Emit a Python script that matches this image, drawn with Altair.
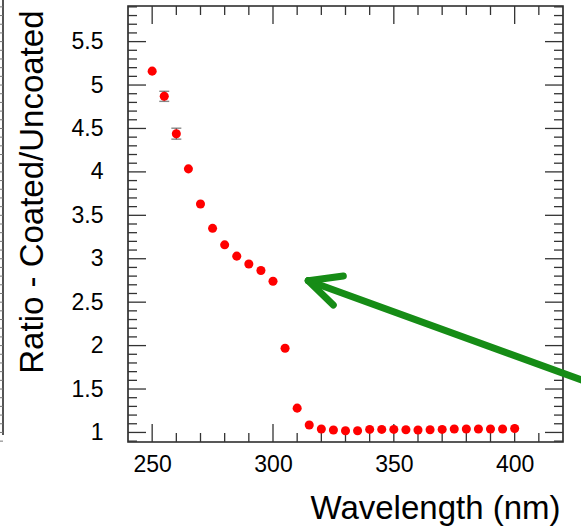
import altair as alt
import pandas as pd

# ---- data ----
wavelength = [250, 255, 260, 265, 270, 275, 280, 285, 290, 295, 300,
              305, 310, 315, 320, 325, 330, 335, 340, 345, 350,
              355, 360, 365, 370, 375, 380, 385, 390, 395, 400]
ratio = [5.16, 4.87, 4.44, 4.035, 3.63, 3.35, 3.16, 3.03, 2.94, 2.865, 2.74,
         1.97, 1.28, 1.085, 1.04, 1.028, 1.02, 1.02, 1.035, 1.035, 1.035,
         1.031, 1.028, 1.031, 1.035, 1.039, 1.039, 1.039, 1.039, 1.039, 1.046]
ratio_err = [0.03, 0.058, 0.063, 0.03, 0.025, 0.02, 0.02, 0.02, 0.02, 0.02, 0.02,
             0.02, 0.015, 0.01, 0.01, 0.01, 0.01, 0.01, 0.01, 0.01, 0.01,
             0.01, 0.01, 0.01, 0.01, 0.01, 0.01, 0.01, 0.01, 0.01, 0.01]

x_labels = [250, 300, 350, 400]
x_minor = [260, 270, 280, 290, 310, 320, 330, 340, 360, 370, 380, 390, 410]
y_labels = [1.0, 1.5, 2.0, 2.5, 3.0, 3.5, 4.0, 4.5, 5.0, 5.5]
y_minor = [0.9, 1.1, 1.2, 1.3, 1.4, 1.6, 1.7, 1.8, 1.9, 2.1, 2.2, 2.3, 2.4,
           2.6, 2.7, 2.8, 2.9, 3.1, 3.2, 3.3, 3.4, 3.6, 3.7, 3.8, 3.9,
           4.1, 4.2, 4.3, 4.4, 4.6, 4.7, 4.8, 4.9, 5.1, 5.2, 5.3, 5.4,
           5.6, 5.7, 5.8, 5.9]

# annotation arrow (in data units): shaft tail, tip, two head arms
arrow_x = [435.3, 314.6, 329.1, 324.95]
arrow_y = [1.528, 2.747, 2.801, 2.467]

W, H = 435, 436
FONT = "Liberation Sans"
TICK_COLOR = "#333333"

df = pd.DataFrame({"wl": wavelength, "r": ratio, "e": ratio_err})
df["lo"] = df["r"] - df["e"]
df["hi"] = df["r"] + df["e"]

xs = alt.Scale(domain=[240, 420], nice=False, zero=False)
ys = alt.Scale(domain=[0.89, 5.91], nice=False, zero=False)

arrow_df = pd.DataFrame({
    "x": [arrow_x[0], arrow_x[1], arrow_x[1]],
    "y": [arrow_y[0], arrow_y[1], arrow_y[1]],
    "x2": [arrow_x[1], arrow_x[2], arrow_x[3]],
    "y2": [arrow_y[1], arrow_y[2], arrow_y[3]],
})

ymaj = pd.DataFrame({"v": y_labels})
ymin = pd.DataFrame({"v": y_minor})
xmaj = pd.DataFrame({"v": x_labels})
xmin = pd.DataFrame({"v": x_minor})

def yticks(d, length):
    left = alt.Chart(d).mark_rule(color=TICK_COLOR, strokeWidth=1.3).encode(
        y=alt.Y("v:Q", scale=ys, axis=None), x=alt.value(0), x2=alt.value(length))
    right = alt.Chart(d).mark_rule(color=TICK_COLOR, strokeWidth=1.3).encode(
        y=alt.Y("v:Q", scale=ys, axis=None), x=alt.value(W - length), x2=alt.value(W))
    return [left, right]

def xticks(d, length):
    bottom = alt.Chart(d).mark_rule(color=TICK_COLOR, strokeWidth=1.3).encode(
        x=alt.X("v:Q", scale=xs, axis=None), y=alt.value(H - length), y2=alt.value(H))
    top = alt.Chart(d).mark_rule(color=TICK_COLOR, strokeWidth=1.3).encode(
        x=alt.X("v:Q", scale=xs, axis=None), y=alt.value(0), y2=alt.value(length))
    return [bottom, top]

points = alt.Chart(df).mark_point(filled=True, shape="circle", size=82, color="#ff0000", opacity=1).encode(
    x=alt.X("wl:Q", scale=xs,
            axis=alt.Axis(orient="bottom", values=x_labels, format="d", ticks=False, tickSize=0,
                          domain=False, grid=False, labelPadding=11, labelFlush=False,
                          title="Wavelength (nm)", titleX=432, titleY=76, titleAlign="right",
                          titleBaseline="alphabetic", titleAngle=0)),
    y=alt.Y("r:Q", scale=ys,
            axis=alt.Axis(orient="left", values=y_labels, format="~g", ticks=False, tickSize=0,
                          domain=False, grid=False, labelPadding=25, labelFlush=False,
                          title="Ratio - Coated/Uncoated", titleX=-86, titleY=4, titleAlign="right",
                          titleBaseline="alphabetic", titleAngle=270)),
)

# neighbouring figure sliver at far left
side_line = alt.Chart(ymaj).mark_rule(color="#555555", strokeWidth=1.2).encode(
    x=alt.value(-125), y=alt.value(-6), y2=alt.value(429))
side_ticks = alt.Chart(pd.concat([ymaj, ymin])).mark_rule(color="#777777", strokeWidth=1).encode(
    y=alt.Y("v:Q", scale=ys, axis=None), x=alt.value(-128), x2=alt.value(-125))

err_rule = alt.Chart(df).mark_rule(color="#666666", strokeWidth=1.3).encode(
    x=alt.X("wl:Q", scale=xs, axis=None),
    y=alt.Y("lo:Q", scale=ys, axis=None),
    y2="hi:Q")
caps_df = df[df["e"] > 0.05]
cap_lo = alt.Chart(caps_df).mark_tick(color="#555555", orient="horizontal", size=10, thickness=1.4).encode(
    x=alt.X("wl:Q", scale=xs, axis=None), y=alt.Y("lo:Q", scale=ys, axis=None))
cap_hi = alt.Chart(caps_df).mark_tick(color="#555555", orient="horizontal", size=10, thickness=1.4).encode(
    x=alt.X("wl:Q", scale=xs, axis=None), y=alt.Y("hi:Q", scale=ys, axis=None))

arrow = alt.Chart(arrow_df).mark_rule(color="#168c16", strokeWidth=7, strokeCap="round").encode(
    x=alt.X("x:Q", scale=xs, axis=None), y=alt.Y("y:Q", scale=ys, axis=None),
    x2="x2:Q", y2="y2:Q")

layers = (yticks(ymaj, 18) + yticks(ymin, 9) + xticks(xmaj, 18) + xticks(xmin, 9)
          + [side_line, side_ticks, err_rule, cap_lo, cap_hi, points, arrow])

chart = alt.layer(*layers).resolve_axis(
    x="independent", y="independent"
).properties(
    width=W, height=H,
    autosize=alt.AutoSizeParams(type="none"),
    padding={"left": 128, "top": 6, "right": 18, "bottom": 84},
    background="white",
).configure_view(
    stroke="#222222", strokeWidth=1.6
).configure_axis(
    labelFont=FONT, labelFontSize=23, labelColor="black",
    titleFont=FONT, titleFontSize=33, titleFontWeight="normal", titleColor="black",
)

chart.save("out.html", embed_options={"renderer": "svg", "actions": False})
